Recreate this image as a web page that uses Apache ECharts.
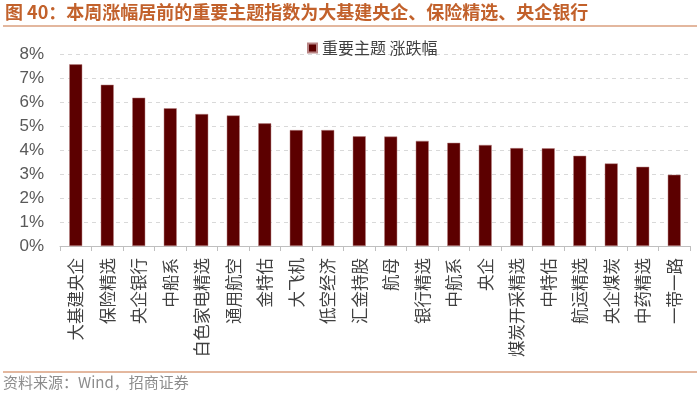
<!DOCTYPE html>
<html><head><meta charset="utf-8">
<script src="https://cdn.jsdelivr.net/npm/echarts@6/dist/echarts.min.js"></script>
<style>html,body{margin:0;padding:0;background:#fff}#c{width:700px;height:394px}</style>
</head><body><div id="c"></div>
<script>
const categories = ["大基建央企","保险精选","央企银行","中船系","白色家电精选","通用航空","金特估","大飞机","低空经济","汇金持股","航母","银行精选","中航系","央企","煤炭开采精选","中特估","航运精选","央企煤炭","中药精选","一带一路"];
const changePct = [7.57,6.72,6.18,5.74,5.50,5.44,5.11,4.83,4.83,4.57,4.56,4.38,4.30,4.21,4.08,4.07,3.76,3.44,3.30,2.97];
const seriesName = "重要主题 涨跌幅";
const titleText = "图 40：本周涨幅居前的重要主题指数为大基建央企、保险精选、央企银行";
const sourceText = "资料来源：Wind，招商证券";
const cjk = '"Noto Sans CJK SC", "Noto Sans", sans-serif';
const chart = echarts.init(document.getElementById('c'));
chart.setOption({
  animation: false,
  backgroundColor: '#fff',
  graphic: [
    {type:'text', left:5, top:3, style:{text:titleText, fill:'#c2612b', font:'bold 18px ' + cjk}},
    {type:'line', shape:{x1:3,y1:26,x2:697,y2:26}, style:{stroke:'#c8703e', lineWidth:1.2}},
    {type:'line', shape:{x1:3,y1:372,x2:697,y2:372}, style:{stroke:'#c8703e', lineWidth:1}},
    {type:'text', left:3, top:375, style:{text:sourceText, fill:'#8c8c8c', font:'15px ' + cjk}}
  ],
  legend: {
    data:[seriesName], left:302, top:35, itemWidth:9, itemHeight:9, itemGap:6, icon:'rect',
    textStyle:{fontSize:16, color:'#404040', fontFamily:cjk}
  },
  grid: {left:60, right:10, top:54, bottom:148},
  xAxis: {
    type:'category', data:categories,
    axisLine:{lineStyle:{color:'#bfbfbf'}},
    axisTick:{show:true, length:5, lineStyle:{color:'#bfbfbf'}},
    axisLabel:{rotate:90, interval:0, fontSize:16.5, color:'#404040', fontFamily:cjk, margin:12}
  },
  yAxis: {
    type:'value', min:0, max:8, interval:1,
    axisLine:{show:false}, axisTick:{show:false},
    axisLabel:{formatter:'{value}%', fontSize:17, color:'#595959', fontFamily:'"Liberation Sans", Arial, sans-serif', margin:16},
    splitLine:{lineStyle:{type:[4,4], color:'#d9d9d9'}}
  },
  series: [{
    name: seriesName, type:'bar', data:changePct, barWidth:13,
    itemStyle:{color:'#5c0000', borderColor:'#b98585', borderWidth:0.5}
  }]
});
</script></body></html>
